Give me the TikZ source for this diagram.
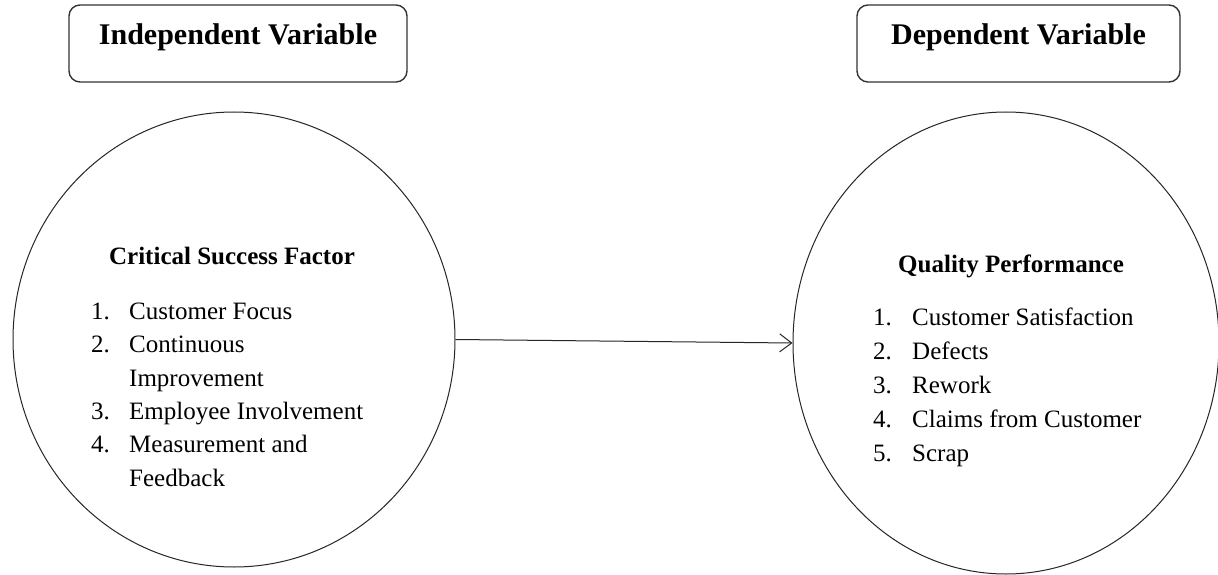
\documentclass[tikz,border=0pt]{standalone}
\usepackage{fontspec}
\setmainfont{Liberation Serif}
\usetikzlibrary{shapes.geometric,arrows.meta}
\begin{document}
\begin{tikzpicture}[x=1pt,y=-1pt,
  varbox/.style={draw=black!80,line width=1.4pt,rounded corners=11pt,inner sep=0pt,
    minimum width=#1,text height=40pt,text depth=37pt,anchor=base,
    font=\fontsize{30}{34}\selectfont\bfseries},
  blob/.style={draw=black!85,line width=1pt,ellipse,inner sep=0pt},
  ttl/.style={anchor=base,inner sep=0pt,font=\fontsize{25}{30}\selectfont\bfseries},
  itm/.style={anchor=base west,inner sep=0pt,font=\fontsize{25}{30}\selectfont},
  link/.style={draw=black!85,line width=1pt,-{Straight Barb[length=12pt,width=18pt,line width=1pt]}}]
\useasboundingbox (0,0) rectangle (1218,575);
\fill[white] (0,0) rectangle (1218,575);
% header boxes
\node[varbox=338pt] (iv) at (238,45) {Independent Variable};
\node[varbox=323pt] (dv) at (1018.5,45) {Dependent Variable};
% circles
\node[blob,minimum width=442pt,minimum height=455pt] (left) at (234,339.5) {};
\node[blob,minimum width=426pt,minimum height=462pt] (right) at (1006,343) {};
% left text
\node[ttl] (csf) at (232,264) {Critical Success Factor};
\node[itm] (l1) at (91,319) {\makebox[38pt][l]{1.}Customer Focus};
\node[itm] (l2) at (91,352.5) {\makebox[38pt][l]{2.}Continuous};
\node[itm] (l2b) at (129,386) {Improvement};
\node[itm] (l3) at (91,419) {\makebox[38pt][l]{3.}Employee Involvement};
\node[itm] (l4) at (91,452.5) {\makebox[38pt][l]{4.}Measurement and};
\node[itm] (l4b) at (129,486) {Feedback};
% right text
\node[ttl] (qp) at (1011,272) {Quality Performance};
\node[itm] (r1) at (873,325) {\makebox[39pt][l]{1.}Customer Satisfaction};
\node[itm] (r2) at (873,359) {\makebox[39pt][l]{2.}Defects};
\node[itm] (r3) at (873,393) {\makebox[39pt][l]{3.}Rework};
\node[itm] (r4) at (873,427) {\makebox[39pt][l]{4.}Claims from Customer};
\node[itm] (r5) at (873,461) {\makebox[39pt][l]{5.}Scrap};
% connector
\draw[link] (left.east) -- (right.west);
\end{tikzpicture}
\end{document}
